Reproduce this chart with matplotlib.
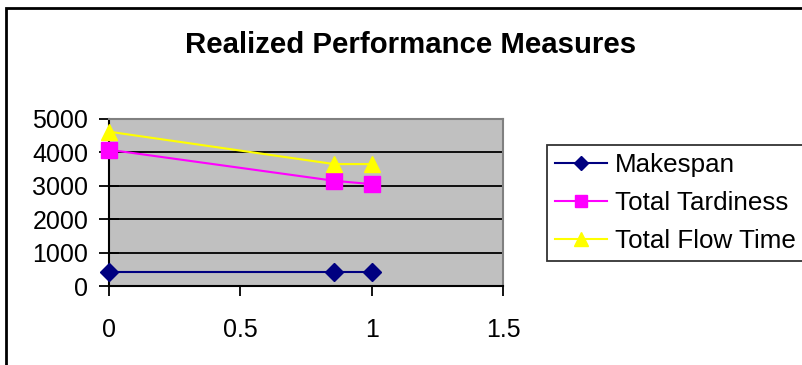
import matplotlib
matplotlib.use("Agg")
import matplotlib.pyplot as plt
from matplotlib.patches import Rectangle

plt.rcParams['font.family'] = ['Liberation Sans', 'DejaVu Sans']

x_vals = [0.0, 0.857, 1.0]
makespan = [420, 420, 420]
total_tardiness = [4080, 3150, 3050]
total_flow_time = [4620, 3650, 3650]
x_ticks = [0, 0.5, 1, 1.5]
y_ticks = [0, 1000, 2000, 3000, 4000, 5000]
title = "Realized Performance Measures"

W, H = 802, 365
fig = plt.figure(figsize=(W / 100, H / 100), dpi=100)
fig.patch.set_facecolor('white')

# outer chart frame (extends beyond right/bottom edges)
fig.add_artist(Rectangle((6 / W, -0.2), 1.2, (H - 8) / H + 0.2, transform=fig.transFigure,
                         fill=False, edgecolor='black', linewidth=2, clip_on=False))

ax = fig.add_axes([109 / W, (H - 286) / H, (503 - 109) / W, (286 - 119) / H])
ax.set_facecolor('#c0c0c0')

ax.plot(x_vals, makespan, color='#000080', marker='D', markersize=9.5, linewidth=1.5,
        label='Makespan', clip_on=False, zorder=3)
ax.plot(x_vals, total_tardiness, color='#ff00ff', marker='s', markersize=11, linewidth=1.5,
        label='Total Tardiness', clip_on=False, zorder=3)
ax.plot(x_vals, total_flow_time, color='#ffff00', marker='^', markersize=12, linewidth=1.5,
        label='Total Flow Time', clip_on=False, zorder=3)

ax.set_xlim(0, 1.5)
ax.set_ylim(0, 5000)
ax.set_xticks(x_ticks)
ax.set_xticklabels(['0', '0.5', '1', '1.5'])
ax.set_yticks(y_ticks)
ax.set_yticklabels([str(v) for v in y_ticks])
ax.yaxis.grid(True, color='black', linewidth=1.3)
ax.set_axisbelow(True)

for s in ['top', 'right']:
    ax.spines[s].set_color('#808080')
    ax.spines[s].set_linewidth(1.5)
for s in ['left', 'bottom']:
    ax.spines[s].set_color('black')
    ax.spines[s].set_linewidth(1.5)

ax.tick_params(axis='y', direction='inout', length=14, width=1.3, pad=8, labelsize=18)
ax.tick_params(axis='x', direction='out', length=7, width=1.3, pad=16, labelsize=18)

fig.text(411 / W, 1 - 45 / H, title, ha='center', va='center', fontsize=21.2, fontweight='bold')

leg = ax.legend(loc='upper left', bbox_to_anchor=(547 / W, 1 - 145 / H),
                bbox_transform=fig.transFigure, fontsize=18.7, frameon=True, fancybox=False,
                edgecolor='black', handlelength=2.0, handletextpad=0.3, labelspacing=0.55,
                borderpad=0.3, borderaxespad=0, markerscale=0.8)
leg.get_frame().set_linewidth(1.3)

fig.savefig('out.png', dpi=100)
